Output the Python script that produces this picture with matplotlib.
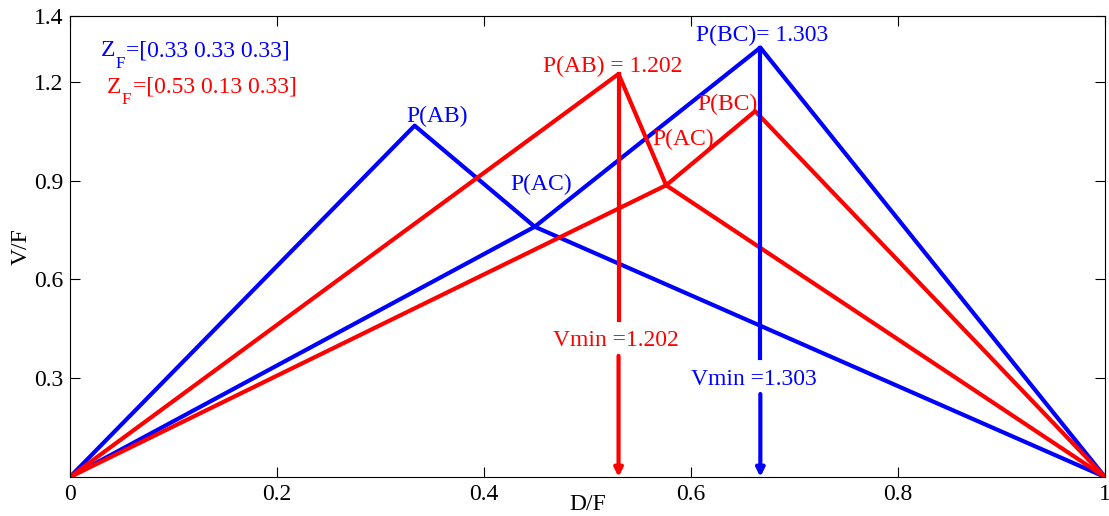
import numpy as np
import matplotlib
matplotlib.use('Agg')
import matplotlib.pyplot as plt

plt.rcParams['font.family'] = ['Liberation Serif', 'DejaVu Serif']

# V-min diagram, feed 1 (blue)
blue_ab_x = [0, 0.333, 0.449, 1]
blue_ab_y = [0, 1.067, 0.760, 0]
blue_bc_x = [0, 0.449, 0.667, 1]
blue_bc_y = [0, 0.760, 1.304, 0]
blue_vmin_x = 0.667
blue_vmin_y = 1.304
blue_gap = [0.252, 0.362]

# V-min diagram, feed 2 (red)
red_ab_x = [0, 0.530, 0.576, 1]
red_ab_y = [0, 1.224, 0.886, 0]
red_bc_x = [0, 0.576, 0.662, 1]
red_bc_y = [0, 0.886, 1.111, 0]
red_vmin_x = 0.530
red_vmin_y = 1.224
red_gap = [0.368, 0.477]

xticks = [0, 0.2, 0.4, 0.6, 0.8, 1]
xtick_labels = ['0', '0.2', '0.4', '0.6', '0.8', '1']
yticks = [0.3, 0.6, 0.9, 1.2, 1.4]
ytick_labels = ['0.3', '0.6', '0.9', '1.2', '1.4']

fig = plt.figure(figsize=(11.09, 5.16), dpi=100)
ax = fig.add_axes([0.0631, 0.0756, 0.9333, 0.8934])

lw = 3
ax.plot(blue_ab_x, blue_ab_y, color='blue', lw=lw)
ax.plot(blue_bc_x, blue_bc_y, color='blue', lw=lw)
ax.plot(red_ab_x, red_ab_y, color='red', lw=lw)
ax.plot(red_bc_x, red_bc_y, color='red', lw=lw)

# vertical Vmin arrows with gap for the label
for x, ytop, gap, c in [(blue_vmin_x, blue_vmin_y, blue_gap, 'blue'),
                        (red_vmin_x, red_vmin_y, red_gap, 'red')]:
    ax.plot([x, x], [ytop, gap[1]], color=c, lw=lw)
    ax.annotate('', xy=(x, 0), xytext=(x, gap[0]),
                arrowprops=dict(arrowstyle='-|>', color=c, lw=lw,
                                mutation_scale=12, shrinkA=0, shrinkB=0))

fs = 17


def zf_label(x, y, rest, c):
    # Z with a big subscript F, like the MATLAB output
    zw = 0.611 * fs
    ax.text(x, y, 'Z', color=c, fontsize=fs, ha='left', va='baseline')
    ax.annotate('F', xy=(x, y), xytext=(zw, -8), textcoords='offset points',
                color=c, fontsize=fs * 0.72, ha='left', va='baseline')
    ax.annotate(rest, xy=(x, y), xytext=(zw + 0.556 * fs * 0.72 + 1, 0), textcoords='offset points',
                color=c, fontsize=fs, ha='left', va='baseline')


zf_label(0.030, 1.277, '=[0.33 0.33 0.33]', 'blue')
zf_label(0.036, 1.167, '=[0.53 0.13 0.33]', 'red')

ax.text(0.355, 1.094, 'P(AB)', color='blue', fontsize=fs, ha='center', va='center')
ax.text(0.455, 0.888, 'P(AC)', color='blue', fontsize=fs, ha='center', va='center')
ax.text(0.669, 1.340, 'P(BC)= 1.303', color='blue', fontsize=fs, ha='center', va='center')
ax.text(0.524, 1.246, 'P(AB) = 1.202', color='red', fontsize=fs, ha='center', va='center')
ax.text(0.635, 1.131, 'P(BC)', color='red', fontsize=fs, ha='center', va='center')
ax.text(0.592, 1.024, 'P(AC)', color='red', fontsize=fs, ha='center', va='center')
ax.text(0.527, 0.416, 'Vmin =1.202', color='red', fontsize=fs, ha='center', va='center')
ax.text(0.661, 0.295, 'Vmin =1.303', color='blue', fontsize=fs, ha='center', va='center')

ax.set_xlim(0, 1)
ax.set_ylim(0, 1.4)
ax.set_xticks(xticks)
ax.set_xticklabels(xtick_labels)
ax.set_yticks(yticks)
ax.set_yticklabels(ytick_labels)
ax.tick_params(direction='in', length=7, width=0.8, top=True, right=True, labelsize=fs, pad=5)
ax.set_xlabel('D/F', fontsize=fs, labelpad=-8)
ax.set_ylabel('V/F', fontsize=fs, labelpad=1)

fig.savefig('out.png', dpi=100)
